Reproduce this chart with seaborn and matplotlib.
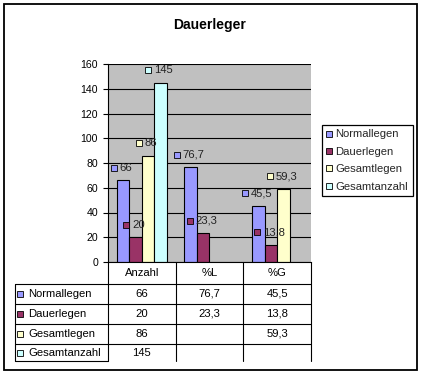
import matplotlib
matplotlib.use('Agg')
import numpy as np
import pandas as pd
import matplotlib.pyplot as plt
import matplotlib.transforms as mtransforms
from matplotlib.lines import Line2D
from matplotlib.patches import Rectangle
import seaborn as sns

# Daten
kategorien = ['Anzahl', '%L', '%G']
reihen = ['Normallegen', 'Dauerlegen', 'Gesamtlegen', 'Gesamtanzahl']
normallegen = [66, 76.7, 45.5]
dauerlegen = [20, 23.3, 13.8]
gesamtlegen = [86, None, 59.3]
gesamtanzahl = [145, None, None]
farben = ['#9999FF', '#993366', '#FFFFCC', '#CCFFFF']
y_ticks = list(range(0, 161, 20))
titel = 'Dauerleger'

W, H = 422, 376
FS = 8.1      # Tabelle, Legende, Beschriftungen
FS_TICK = 7.6


def fmt(v):
    return ('%g' % v).replace('.', ',')


def fx(x):
    return x / W


def fy(y):
    return 1 - y / H


werte = [normallegen, dauerlegen, gesamtlegen, gesamtanzahl]
zeilen = []
for reihe, vals in zip(reihen, werte):
    for kat, v in zip(kategorien, vals):
        if v is not None:
            zeilen.append({'Kategorie': kat, 'Reihe': reihe, 'Wert': v})
df = pd.DataFrame(zeilen)

sns.set_theme(style='white')
plt.rcParams['font.family'] = ['Liberation Sans', 'DejaVu Sans']

fig = plt.figure(figsize=(W / 100, H / 100), dpi=100)
ax = fig.add_axes([fx(108), fy(262), 203 / W, 198 / H])
ax.set_facecolor('#C0C0C0')

sns.barplot(data=df, x='Kategorie', y='Wert', hue='Reihe', order=kategorien,
            hue_order=reihen, palette=farben, saturation=1, edgecolor='black',
            linewidth=0.8, width=0.74, errorbar=None, legend=False, ax=ax)

ax.set_ylim(0, 160)
ax.set_xlim(-0.5, 2.5)
ax.set_yticks(y_ticks)
ax.set_xticks([])
ax.set_xlabel('')
ax.set_ylabel('')
ax.yaxis.grid(True, color='black', linewidth=0.8)
ax.set_axisbelow(True)
ax.tick_params(axis='y', length=3.6, width=0.8, pad=3.6, labelsize=FS_TICK,
               colors='black', left=True)
for s in ['top', 'right']:
    ax.spines[s].set_visible(False)
for s in ['left', 'bottom']:
    ax.spines[s].set_color('black')
    ax.spines[s].set_linewidth(0.8)

# Datenbeschriftungen mit Legendensymbol
renderer = fig.canvas.get_renderer()
mk = 4.2
for farbe, cont in zip(farben, ax.containers):
    for bar in cont:
        h = bar.get_height()
        if np.isnan(h):
            continue
        x = bar.get_x() + bar.get_width() / 2
        t = ax.annotate(fmt(h), (x, h), xytext=(0, 9), textcoords='offset points',
                        ha='left', va='center', fontsize=FS, color='#222222')
        w = t.get_window_extent(renderer).width * 72 / fig.dpi
        gesamt = mk + 2 + w
        links = -gesamt / 2 - 1
        t.xyann = (links + mk + 2, 9)
        tr = mtransforms.offset_copy(ax.transData, fig=fig, x=links + mk / 2, y=9,
                                     units='points')
        ax.plot([x], [h], marker='s', markersize=mk, markerfacecolor=farbe,
                markeredgecolor='black', markeredgewidth=0.6, linestyle='',
                transform=tr, clip_on=False)

# Datentabelle
blend = mtransforms.blended_transform_factory(ax.transData, fig.transFigure)


def linie(x0, y0, x1, y1):
    fig.add_artist(Line2D([fx(x0), fx(x1)], [fy(y0), fy(y1)],
                          transform=fig.transFigure, color='black', linewidth=0.8))


zeilen_y = [284, 304, 324, 344, 361]
for y in zeilen_y[:-1]:
    linie(15, y, 311, y)
linie(15, 361, 108, 361)
linie(15, 284, 15, 361)
for xd in [-0.5, 0.5, 1.5, 2.5]:
    fig.add_artist(Line2D([xd, xd], [fy(262), fy(361)], transform=blend,
                          color='black', linewidth=0.8))

for i, kat in enumerate(kategorien):
    fig.text(i, fy(273), kat, transform=blend, ha='center', va='center',
             fontsize=FS, color='black')

for r, (reihe, farbe, vals) in enumerate(zip(reihen, farben, werte)):
    yc = (zeilen_y[r] + zeilen_y[r + 1]) / 2
    fig.add_artist(Line2D([fx(19.5)], [fy(yc)], marker='s', markersize=mk,
                          markerfacecolor=farbe, markeredgecolor='black',
                          markeredgewidth=0.6, linestyle='',
                          transform=fig.transFigure))
    fig.text(fx(28), fy(yc), reihe, ha='left', va='center', fontsize=FS,
             color='black')
    for i, v in enumerate(vals):
        if v is not None:
            fig.text(i, fy(yc), fmt(v), transform=blend, ha='center',
                     va='center', fontsize=FS, color='black')

# Legende
handles = [Line2D([], [], marker='s', linestyle='', markersize=mk,
                  markerfacecolor=c, markeredgecolor='black', markeredgewidth=0.6)
           for c in farben]
leg = fig.legend(handles, reihen, loc='upper left',
                 bbox_to_anchor=(fx(322), fy(125)), frameon=True, fancybox=False,
                 edgecolor='black', framealpha=1, fontsize=FS, handlelength=0.5,
                 handletextpad=0.3, borderpad=0.4, labelspacing=0.66,
                 borderaxespad=0)
leg.get_frame().set_linewidth(0.9)

fig.text(fx(210), fy(25), titel, ha='center', va='center', fontsize=10,
         fontweight='bold', color='black')

fig.add_artist(Rectangle((fx(4), fy(370)), fx(413), 366 / H, fill=False,
                         edgecolor='black', linewidth=1.3,
                         transform=fig.transFigure))

fig.savefig('out.png', dpi=100)
